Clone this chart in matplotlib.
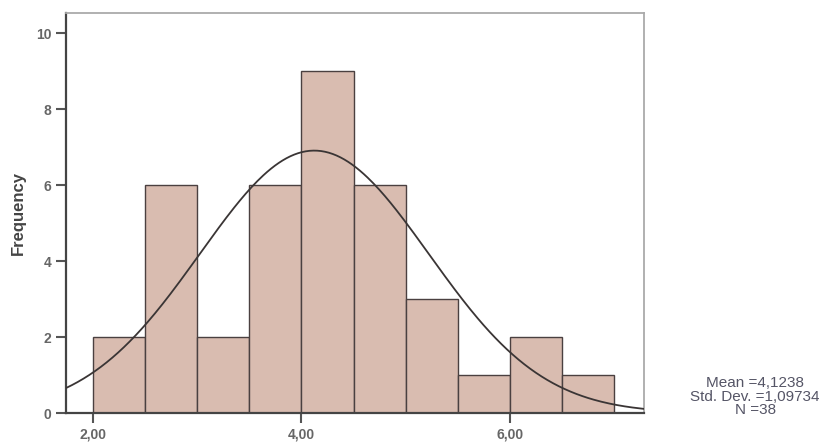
import numpy as np
from matplotlib import pyplot as plt

# histogram data (bin edges, 0.5 wide)
bin_left = [2.0, 2.5, 3.0, 3.5, 4.0, 4.5, 5.0, 5.5, 6.0, 6.5]
counts = [2, 6, 2, 6, 9, 6, 3, 1, 2, 1]
bin_width = 0.5

mean = 4.1238
std = 1.09734
n = 38

x_ticks = [2.0, 4.0, 6.0]
x_tick_labels = ["2,00", "4,00", "6,00"]
y_ticks = [0, 2, 4, 6, 8, 10]

plt.rcParams["font.family"] = ["Liberation Sans", "DejaVu Sans"]

fig = plt.figure(figsize=(8.4, 4.43), dpi=100)
ax = fig.add_axes([0.0786, 0.0677, 0.6881, 0.903])

ax.bar(bin_left, counts, width=bin_width, align="edge",
       color="#d9bcb0", edgecolor="#4a4040", linewidth=1.0, zorder=2)

# normal curve scaled to the histogram
xs = np.linspace(1.744, 7.285, 300)
ys = n * bin_width * np.exp(-0.5 * ((xs - mean) / std) ** 2) / (std * np.sqrt(2 * np.pi))
ax.plot(xs, ys, color="#3a3535", linewidth=1.3, zorder=3)

ax.set_xlim(1.744, 7.285)
ax.set_ylim(0, 10.53)
ax.set_xticks(x_ticks)
ax.set_xticklabels(x_tick_labels)
ax.set_yticks(y_ticks)
ax.tick_params(direction="out", length=7, width=1.5, color="#555555",
               labelcolor="#666666", labelsize=10)
for lab in ax.get_xticklabels() + ax.get_yticklabels():
    lab.set_fontweight("bold")

ax.spines["left"].set_color("#444444")
ax.spines["left"].set_linewidth(1.6)
ax.spines["bottom"].set_color("#444444")
ax.spines["bottom"].set_linewidth(1.6)
ax.spines["top"].set_color("#aaaaaa")
ax.spines["right"].set_color("#aaaaaa")
ax.spines["top"].set_linewidth(1.3)
ax.spines["right"].set_linewidth(1.3)

ax.set_ylabel("Frequency", fontsize=12, fontweight="bold", color="#444444", labelpad=7)

fig.text(0.899, 0.104, "Mean =4,1238\nStd. Dev. =1,09734\nN =38",
         ha="center", va="center", fontsize=11, color="#555566", linespacing=0.95)

fig.savefig("out.png", dpi=100)
